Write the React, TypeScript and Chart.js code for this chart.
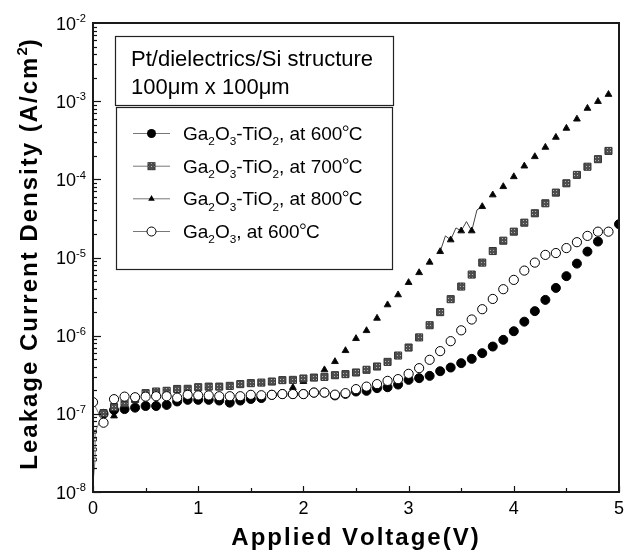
import React, { useEffect, useRef } from 'react';
import { Chart, registerables } from 'chart.js';

Chart.register(...registerables);

const FONT = "'Liberation Sans', Arial, Helvetica, sans-serif";

// ---------- data ----------
const xFilled600 = [0.1, 0.2, 0.3, 0.4, 0.5, 0.6, 0.7, 0.8, 0.9, 1.0, 1.1, 1.2, 1.3, 1.4, 1.5, 1.6, 1.7, 1.8, 1.9, 2.0, 2.1, 2.2, 2.3, 2.4, 2.5, 2.6, 2.7, 2.8, 2.9, 3.0, 3.1, 3.2, 3.3, 3.4, 3.5, 3.6, 3.7, 3.8, 3.9, 4.0, 4.1, 4.2, 4.3, 4.4, 4.5, 4.6, 4.7, 4.8, 5.0];
const jFilled600 = [1.0e-7, 1.12e-7, 1.15e-7, 1.2e-7, 1.26e-7, 1.26e-7, 1.3e-7, 1.44e-7, 1.51e-7, 1.51e-7,
  1.51e-7, 1.48e-7, 1.39e-7, 1.48e-7, 1.55e-7, 1.59e-7, 1.75e-7, 1.79e-7, 1.79e-7, 1.79e-7,
  1.87e-7, 1.87e-7, 1.72e-7, 1.8e-7, 1.93e-7, 1.97e-7, 2.13e-7, 2.19e-7, 2.37e-7, 2.72e-7,
  2.86e-7, 3.06e-7, 3.51e-7, 3.91e-7, 4.45e-7, 5.05e-7, 5.97e-7, 7.26e-7, 8.84e-7, 1.14e-6,
  1.51e-6, 2.06e-6, 2.87e-6, 4.08e-6, 5.77e-6, 8.35e-6, 1.19e-5, 1.6e-5, 2.67e-5];

const xSquare700 = [0.0, 0.02, 0.02, 0.02, 0.02, 0.1, 0.2, 0.3, 0.4, 0.5, 0.6, 0.7, 0.8, 0.9, 1.0, 1.1, 1.2, 1.3, 1.4, 1.5, 1.6, 1.7, 1.8, 1.9, 2.0, 2.1, 2.2, 2.3, 2.4, 2.5, 2.6, 2.7, 2.8, 2.9, 3.0, 3.1, 3.2, 3.3, 3.4, 3.5, 3.6, 3.7, 3.8, 3.9, 4.0, 4.1, 4.2, 4.3, 4.4, 4.5, 4.6, 4.7, 4.8, 4.9];
const jSquare700 = [1.3e-8, 2.6e-8, 3.5e-8, 4.7e-8, 5.9e-8,
  1.02e-7, 1.22e-7, 1.37e-7, 1.55e-7, 1.84e-7, 1.93e-7, 1.97e-7, 2.08e-7, 2.09e-7, 2.19e-7,
  2.23e-7, 2.23e-7, 2.28e-7, 2.4e-7, 2.47e-7, 2.51e-7, 2.59e-7, 2.7e-7, 2.72e-7, 2.83e-7,
  2.91e-7, 2.97e-7, 3.12e-7, 3.22e-7, 3.38e-7, 3.66e-7, 4.03e-7, 4.62e-7, 5.57e-7, 7.05e-7,
  9.5e-7, 1.36e-6, 2.0e-6, 2.93e-6, 4.25e-6, 6.05e-6, 8.6e-6, 1.21e-5, 1.64e-5, 2.14e-5,
  2.79e-5, 3.68e-5, 4.94e-5, 6.76e-5, 8.9e-5, 1.14e-4, 1.45e-4, 1.81e-4, 2.31e-4];

// includes unmarked intermediate readings (3.35 ... 3.65) that only show as thin line pieces
const xTriangle800 = [0.2, 0.3, 0.4, 0.5, 0.6, 0.7, 0.8, 0.9, 1.0, 1.1, 1.2, 1.3, 1.4, 1.5, 1.6, 1.7, 1.8, 1.9, 2.0, 2.1, 2.2, 2.3, 2.4, 2.5, 2.6, 2.7, 2.8, 2.9, 3.0, 3.1, 3.2, 3.3, 3.35, 3.4, 3.45, 3.5, 3.55, 3.6, 3.65, 3.7, 3.8, 3.9, 4.0, 4.1, 4.2, 4.3, 4.4, 4.5, 4.6, 4.7, 4.8, 4.9];
const jTriangle800 = [9.4e-8, 1.25e-7, 1.5e-7, 1.8e-7, 1.9e-7, 1.95e-7, 2.05e-7, 2.07e-7, 2.15e-7,
  2.2e-7, 2.2e-7, 2.2e-7, 2.38e-7, 2.45e-7, 2.48e-7, 2.55e-7, 2.65e-7, 2.17e-7, 2.59e-7,
  2.85e-7, 3.66e-7, 4.66e-7, 6.44e-7, 9.18e-7, 1.16e-6, 1.67e-6, 2.48e-6, 3.33e-6, 4.78e-6,
  6.4e-6, 8.7e-6, 1.19e-5, 1.89e-5, 1.68e-5, 2.39e-5, 2.19e-5, 2.88e-5, 2.19e-5, 4.06e-5, 4.48e-5, 6.32e-5, 8.07e-5, 1.08e-4,
  1.48e-4, 1.95e-4, 2.57e-4, 3.45e-4, 4.5e-4, 5.9e-4, 8.1e-4, 9.9e-4, 1.22e-3];

const xOpen600 = [0.0, 0.1, 0.2, 0.3, 0.4, 0.5, 0.6, 0.7, 0.8, 0.9, 1.0, 1.1, 1.2, 1.3, 1.4, 1.5, 1.6, 1.7, 1.8, 1.9, 2.0, 2.1, 2.2, 2.3, 2.4, 2.5, 2.6, 2.7, 2.8, 2.9, 3.0, 3.1, 3.2, 3.3, 3.4, 3.5, 3.6, 3.7, 3.8, 3.9, 4.0, 4.1, 4.2, 4.3, 4.4, 4.5, 4.6, 4.7, 4.8, 4.9];
const jOpen600 = [1.41e-7, 7.7e-8, 1.54e-7, 1.66e-7, 1.63e-7, 1.66e-7, 1.68e-7, 1.68e-7, 1.61e-7, 1.75e-7,
  1.72e-7, 1.72e-7, 1.68e-7, 1.68e-7, 1.68e-7, 1.75e-7, 1.73e-7, 1.75e-7, 1.79e-7, 1.79e-7,
  1.79e-7, 1.87e-7, 1.87e-7, 1.76e-7, 1.84e-7, 2.07e-7, 2.23e-7, 2.4e-7, 2.64e-7, 2.78e-7,
  3.25e-7, 3.84e-7, 4.91e-7, 6.34e-7, 8.5e-7, 1.17e-6, 1.61e-6, 2.18e-6, 2.95e-6, 3.93e-6,
  5.17e-6, 6.8e-6, 8.6e-6, 1.08e-5, 1.14e-5, 1.32e-5, 1.57e-5, 1.89e-5, 2.14e-5, 2.14e-5];

const xTickLabels = ['0', '1', '2', '3', '4', '5'];
const yTickExponents = ['-2', '-3', '-4', '-5', '-6', '-7', '-8'];
const xTitle = 'Applied Voltage(V)';
const yTitleParts: [string, string][] = [['Leakage Current Density (A/cm', 'n'], ['2', 'sup'], [')', 'n']];
const boxLines = ['Pt/dielectrics/Si structure', '100\u03BCm x 100\u03BCm'];
const legendEntries: [string, string][][] = [
  [['Ga', 'n'], ['2', 'sub'], ['O', 'n'], ['3', 'sub'], ['-TiO', 'n'], ['2', 'sub'], [', at 600', 'n'], ['o', 'sup'], ['C', 'n']],
  [['Ga', 'n'], ['2', 'sub'], ['O', 'n'], ['3', 'sub'], ['-TiO', 'n'], ['2', 'sub'], [', at 700', 'n'], ['o', 'sup'], ['C', 'n']],
  [['Ga', 'n'], ['2', 'sub'], ['O', 'n'], ['3', 'sub'], ['-TiO', 'n'], ['2', 'sub'], [', at 800', 'n'], ['o', 'sup'], ['C', 'n']],
  [['Ga', 'n'], ['2', 'sub'], ['O', 'n'], ['3', 'sub'], [', at 600', 'n'], ['o', 'sup'], ['C', 'n']],
];
const legendMarkers = ['filled', 'square', 'triangle', 'open'];

const pts = (xs: number[], ys: number[]) => xs.map((x, i) => ({ x, y: ys[i] }));
const isGridX = (x: number) => Math.abs(x * 10 - Math.round(x * 10)) < 0.01;

function textWidth(ctx: CanvasRenderingContext2D, t: string, sp: number) {
  if (!sp) return ctx.measureText(t).width;
  let w = 0;
  for (const ch of t) w += ctx.measureText(ch).width + sp;
  return w;
}
function fillSpaced(ctx: CanvasRenderingContext2D, t: string, x: number, y: number, sp: number) {
  if (!sp) { ctx.fillText(t, x, y); return; }
  let cx = x;
  for (const ch of t) { ctx.fillText(ch, cx, y); cx += ctx.measureText(ch).width + sp; }
}

function drawRich(ctx: CanvasRenderingContext2D, parts: [string, string][], x: number, y: number, size: number, weight: string, align: string, sp = 0) {
  const small = size * 0.62;
  const widths = parts.map(([t, k]) => {
    ctx.font = `${weight} ${k === 'n' ? size : small}px ${FONT}`;
    if (k === 'sup' && t === 'o') return small * 0.55;
    return textWidth(ctx, t, k === 'n' ? sp : 0);
  });
  const total = widths.reduce((a, b) => a + b, 0);
  let cx = align === 'right' ? x - total : align === 'center' ? x - total / 2 : x;
  parts.forEach(([t, k], i) => {
    ctx.font = `${weight} ${k === 'n' ? size : small}px ${FONT}`;
    const dy = k === 'sub' ? size * 0.28 : k === 'sup' ? -size * 0.4 : 0;
    if (k === 'sup' && t === 'o') {
      ctx.save();
      ctx.lineWidth = 1;
      ctx.beginPath();
      ctx.arc(cx + small * 0.28, y - size * 0.62, small * 0.2, 0, Math.PI * 2);
      ctx.stroke();
      ctx.restore();
    } else {
      fillSpaced(ctx, t, cx, y + dy, k === 'n' ? sp : 0);
    }
    cx += widths[i];
  });
  return total;
}

function drawMarker(ctx: CanvasRenderingContext2D, kind: string, x: number, y: number, pattern: any) {
  ctx.save();
  ctx.lineWidth = 1;
  if (kind === 'filled') {
    ctx.beginPath(); ctx.arc(x, y, 4.5, 0, Math.PI * 2); ctx.fillStyle = '#000'; ctx.fill();
  } else if (kind === 'open') {
    ctx.beginPath(); ctx.arc(x, y, 4.5, 0, Math.PI * 2); ctx.fillStyle = '#fff'; ctx.fill(); ctx.strokeStyle = '#000'; ctx.stroke();
  } else if (kind === 'square') {
    ctx.fillStyle = pattern; ctx.fillRect(x - 3.5, y - 3.5, 7, 7); ctx.strokeStyle = '#333'; ctx.strokeRect(x - 3.5, y - 3.5, 7, 7);
  } else {
    const r = 3.8;
    ctx.beginPath();
    ctx.moveTo(x, y - r);
    ctx.lineTo(x + r * 0.866, y + r * 0.5);
    ctx.lineTo(x - r * 0.866, y + r * 0.5);
    ctx.closePath(); ctx.fillStyle = '#000'; ctx.fill();
  }
  ctx.restore();
}

export default function App() {
  const ref = useRef<HTMLCanvasElement>(null);
  useEffect(() => {
    document.body.style.margin = '0';
    const canvas = ref.current!;
    const pc = document.createElement('canvas');
    pc.width = 3; pc.height = 3;
    const pctx = pc.getContext('2d')!;
    pctx.fillStyle = '#4e4e4e'; pctx.fillRect(0, 0, 3, 3);
    pctx.fillStyle = '#b5b5b5'; pctx.fillRect(1, 1, 1, 1);
    const pattern = canvas.getContext('2d')!.createPattern(pc, 'repeat');

    const decorations = {
      id: 'decorations',
      afterDraw(chart: any) {
        const { ctx, chartArea: a, scales } = chart;
        const xs = scales.x, ys = scales.y;
        ctx.save();
        ctx.strokeStyle = '#111';
        ctx.fillStyle = '#000';
        ctx.textBaseline = 'alphabetic';
        // y ticks (log minors)
        ctx.lineWidth = 1.2;
        for (let e = -8; e < -2; e++) {
          for (let m = 1; m < 10; m++) {
            const v = m * Math.pow(10, e);
            const py = Math.round(ys.getPixelForValue(v)) + 0.5;
            const len = m === 1 ? 8 : 4;
            ctx.beginPath(); ctx.moveTo(a.left, py); ctx.lineTo(a.left + len, py); ctx.stroke();
          }
        }
        // x ticks
        for (let i = 0; i <= 10; i++) {
          const px = Math.round(xs.getPixelForValue(i * 0.5)) + 0.5;
          const len = i % 2 === 0 ? 6 : 4;
          ctx.beginPath(); ctx.moveTo(px, a.bottom); ctx.lineTo(px, a.bottom - len); ctx.stroke();
        }
        // frame
        ctx.lineWidth = 2;
        ctx.strokeStyle = '#1a1a1a';
        ctx.strokeRect(a.left, a.top, a.right - a.left, a.bottom - a.top);
        // y tick labels
        yTickExponents.forEach((ex) => {
          const v = Math.pow(10, Number(ex));
          const py = ys.getPixelForValue(v);
          drawRich(ctx, [['10', 'n'], [ex, 'sup']], 86, py + 6.5, 18, '400', 'right');
        });
        // x tick labels
        ctx.font = `400 18px ${FONT}`;
        ctx.textAlign = 'center';
        xTickLabels.forEach((t) => {
          ctx.fillText(t, xs.getPixelForValue(Number(t)), a.bottom + 22);
        });
        ctx.textAlign = 'left';
        // x title
        drawRich(ctx, [[xTitle, 'n']], (a.left + a.right) / 2, 545, 24, 'bold', 'center', 2);
        // y title
        ctx.save();
        ctx.translate(37, (a.top + a.bottom) / 2 - 4);
        ctx.rotate(-Math.PI / 2);
        drawRich(ctx, yTitleParts, 0, 0, 24, 'bold', 'center', 2);
        ctx.restore();
        // description box
        ctx.lineWidth = 1.2;
        ctx.strokeStyle = '#222';
        ctx.fillStyle = '#fff';
        ctx.fillRect(115.5, 36.5, 278, 69);
        ctx.strokeRect(115.5, 36.5, 278, 69);
        ctx.fillStyle = '#000';
        ctx.font = `400 22px ${FONT}`;
        ctx.fillText(boxLines[0], 131, 66);
        ctx.fillText(boxLines[1], 131, 94);
        // legend box
        ctx.fillStyle = '#fff';
        ctx.fillRect(116.5, 107.5, 276, 162);
        ctx.strokeRect(116.5, 107.5, 276, 162);
        const rows = [133, 165.7, 198.3, 231];
        legendEntries.forEach((parts, i) => {
          const cy = rows[i];
          ctx.strokeStyle = '#777';
          ctx.lineWidth = 1;
          ctx.beginPath(); ctx.moveTo(133, cy + 0.5); ctx.lineTo(170, cy + 0.5); ctx.stroke();
          drawMarker(ctx, legendMarkers[i], 151.5, cy + 0.5, pattern);
          ctx.fillStyle = '#000';
          ctx.strokeStyle = '#000';
          drawRich(ctx, parts, 183, cy + 7, 19, '400', 'left');
        });
        ctx.restore();
      },
    };

    const nearZero = (c: any) => (c.p0.parsed.x < 0.05 ? '#777' : undefined);

    const chart = new Chart(canvas, {
      type: 'scatter',
      data: {
        datasets: [
          {
            label: 'Ga2O3, at 600C',
            data: pts(xOpen600, jOpen600),
            order: 0,
            showLine: true,
            borderColor: 'rgba(0,0,0,0)',
            borderWidth: 1,
            segment: { borderColor: nearZero },
            pointStyle: 'circle',
            pointRadius: 4.6,
            pointBackgroundColor: '#fff',
            pointBorderColor: '#000',
            pointBorderWidth: 1,
            clip: 0,
          },
          {
            label: 'Ga2O3-TiO2, at 700C',
            data: pts(xSquare700, jSquare700),
            order: 1,
            showLine: true,
            borderColor: 'rgba(0,0,0,0)',
            borderWidth: 1,
            segment: { borderColor: nearZero },
            pointStyle: 'rect',
            pointRadius: (c: any) => (c.raw && c.raw.x < 0.05 ? (c.raw.x === 0 ? 0 : 2) : 5),
            pointBackgroundColor: (c: any) => (c.raw && c.raw.x < 0.05 ? '#fff' : pattern),
            pointBorderColor: '#333',
            pointBorderWidth: 1,
            clip: 0,
          },
          {
            label: 'Ga2O3-TiO2, at 600C',
            data: pts(xFilled600, jFilled600),
            order: 2,
            showLine: false,
            pointStyle: 'circle',
            pointRadius: 4.5,
            pointBackgroundColor: '#000',
            pointBorderColor: '#000',
            pointBorderWidth: 1,
            clip: 0,
          },
          {
            label: 'Ga2O3-TiO2, at 800C',
            data: pts(xTriangle800, jTriangle800),
            order: 3,
            showLine: true,
            borderColor: 'rgba(0,0,0,0)',
            borderWidth: 1,
            segment: { borderColor: (c: any) => (c.p0.parsed.x > 3.25 && c.p0.parsed.x < 3.68 ? '#444' : undefined) },
            pointStyle: 'triangle',
            pointRadius: (c: any) => (c.raw && !isGridX(c.raw.x) ? 0 : 3.9),
            pointBackgroundColor: '#000',
            pointBorderColor: '#111',
            pointBorderWidth: 1,
            clip: 0,
          },
        ],
      },
      options: {
        responsive: false,
        devicePixelRatio: 1,
        animation: false,
        events: [],
        layout: { padding: { left: 93, right: 4, top: 23, bottom: 61 } },
        plugins: { legend: { display: false }, tooltip: { enabled: false } },
        scales: {
          x: { type: 'linear', min: 0, max: 5, display: false },
          y: { type: 'logarithmic', min: 1e-8, max: 1e-2, display: false },
        },
      },
      plugins: [decorations],
    } as any);
    return () => chart.destroy();
  }, []);
  return (
    <div style={{ width: 625, height: 553, background: '#fff' }}>
      <canvas ref={ref} width={625} height={553} style={{ display: 'block' }} />
    </div>
  );
}
